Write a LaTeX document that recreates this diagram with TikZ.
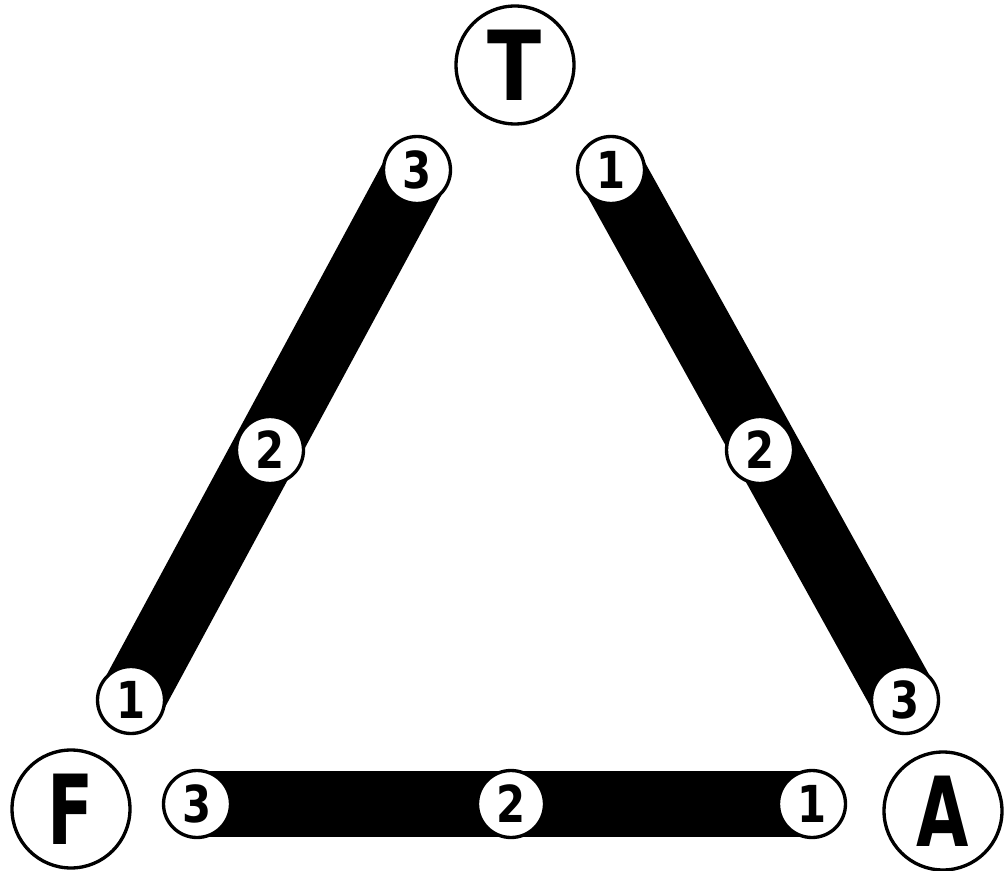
\documentclass[tikz,border=0pt]{standalone}
\usepackage{fontspec}
\setmainfont{DejaVu Sans}
\usepackage{tikz}
\usetikzlibrary{backgrounds}

\begin{document}
\begin{tikzpicture}[x = 0.02cm, y = -0.02cm,
  big/.style = {draw, circle, line width = 1.9pt, minimum size = 2.36cm, inner sep = 0pt,
    font = \fontsize{55}{55}\selectfont\bfseries},
  num/.style = {draw, circle, fill = white, line width = 1.9pt, minimum size = 1.34cm, inner sep = 0pt,
    font = \fontsize{29}{29}\selectfont\bfseries},
  bar/.style = {line width = 38pt, line cap = round}]
\useasboundingbox (0,0) rectangle (1004,871);
% vertices
\node [big] (T) at (515,65) {\scalebox{0.82}[1]{T}};
\node [big] (F) at (71,809) {\scalebox{0.7}[1]{F}};
\node [big] (A) at (943,811) {\scalebox{0.7}[1]{A}};
% left side
\node [num] (l3) at (417,170) {\scalebox{0.82}[1]{3}};
\node [num] (l2) at (270,450) {\scalebox{0.82}[1]{2}};
\node [num] (l1) at (131,700) {\scalebox{0.82}[1]{1}};
% right side
\node [num] (r1) at (611,170) {\scalebox{0.82}[1]{1}};
\node [num] (r2) at (760,450) {\scalebox{0.82}[1]{2}};
\node [num] (r3) at (905,700) {\scalebox{0.82}[1]{3}};
% bottom side
\node [num] (b3) at (197,804) {\scalebox{0.82}[1]{3}};
\node [num] (b2) at (511,804) {\scalebox{0.82}[1]{2}};
\node [num] (b1) at (812,804) {\scalebox{0.82}[1]{1}};
\begin{scope}[on background layer]
\draw [bar] (l3.center) -- (l1.center);
\draw [bar] (r1.center) -- (r3.center);
\draw [bar] (b3.center) -- (b1.center);
\end{scope}
\end{tikzpicture}
\end{document}
